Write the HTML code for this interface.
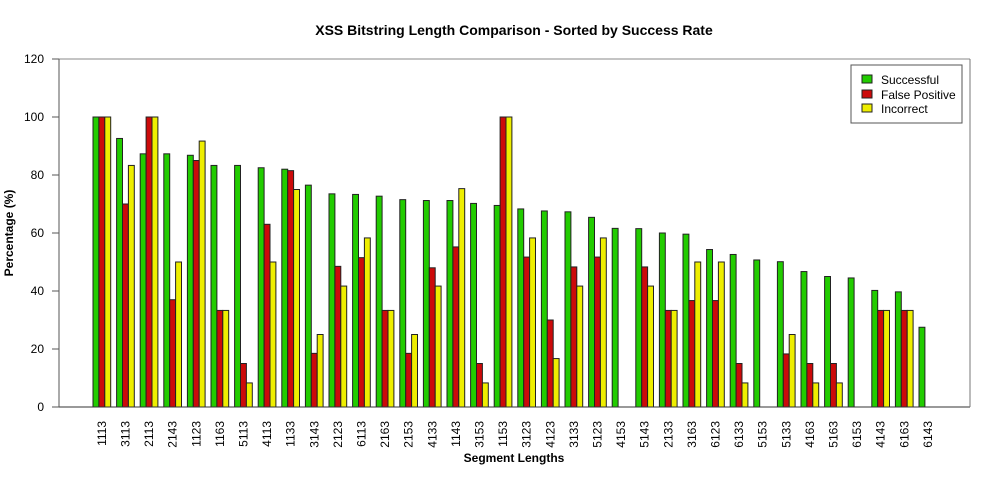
<!DOCTYPE html>
<html><head><meta charset="utf-8"><style>
body{margin:0;background:#fff}
svg{display:block;font-family:"Liberation Sans",sans-serif}
</style></head><body>
<svg id="chart" width="1000" height="480">
<text x="514" y="35" text-anchor="middle" font-size="14" font-weight="bold">XSS Bitstring Length Comparison - Sorted by Success Rate</text>
<text x="514" y="462" text-anchor="middle" font-size="12" font-weight="bold">Segment Lengths</text>
<text transform="translate(13,233) rotate(-90)" text-anchor="middle" font-size="12" font-weight="bold">Percentage (%)</text>
<g id="bars"></g>
<line x1="59" y1="407" x2="970" y2="407" stroke="#333"/>
<line x1="59" y1="59" x2="970" y2="59" stroke="#888"/>
<line x1="970" y1="59" x2="970" y2="407" stroke="#777"/>
<line x1="59" y1="59" x2="59" y2="407" stroke="#555"/>
<g id="yticks"></g>
<g id="xlabels"></g>
<g>
<rect x="851" y="65" width="111" height="58" fill="#fff" stroke="#555"/>
<rect x="862" y="75" width="10" height="8" fill="#22cc00" stroke="#222"/>
<text x="881" y="84" font-size="12">Successful</text>
<rect x="862" y="90" width="10" height="8" fill="#cc0a0a" stroke="#222"/>
<text x="881" y="99" font-size="12">False Positive</text>
<rect x="862" y="104" width="10" height="8" fill="#eeee00" stroke="#222"/>
<text x="881" y="113" font-size="12">Incorrect</text>
</g>
</svg>
<script>
const categories=["1113","3113","2113","2143","1123","1163","5113","4113","1133","3143","2123","6113","2163","2153","4133","1143","3153","1153","3123","4123","3133","5123","4153","5143","2133","3163","6123","6133","5153","5133","4163","5163","6153","4143","6163","6143"];
const successful=[100,92.6,87.3,87.3,86.8,83.3,83.3,82.5,82,76.5,73.5,73.3,72.7,71.5,71.2,71.2,70.2,69.5,68.3,67.6,67.3,65.4,61.6,61.5,60,59.6,54.3,52.6,50.7,50.1,46.7,45,44.5,40.2,39.7,27.5];
const falsePositive=[100,70,100,37,85,33.3,15,63,81.5,18.5,48.5,51.5,33.3,18.5,48,55.2,15,100,51.7,30,48.3,51.7,0,48.3,33.3,36.7,36.7,15,0,18.3,15,15,0,33.3,33.3,0];
const incorrect=[100,83.3,100,50,91.7,33.3,8.3,50,75,25,41.7,58.3,33.3,25,41.7,75.3,8.3,100,58.3,16.7,41.7,58.3,0,41.7,33.3,50,50,8.3,0,25,8.3,8.3,0,33.3,33.3,0];
const yTicks=[0,20,40,60,80,100,120];

const NS="http://www.w3.org/2000/svg";
const yScale=v=>407-v*(348/120);
const groupStep=23.6, barW=5.9, x0=93;
const xGroup=i=>x0+i*groupStep;
const series=[["successful",successful,"#22cc00"],["false-positive",falsePositive,"#cc0a0a"],["incorrect",incorrect,"#eeee00"]];
const gb=document.getElementById("bars");
categories.forEach((c,i)=>{
  series.forEach(([name,vals,col],k)=>{
    const r=document.createElementNS(NS,"rect");
    const y=yScale(vals[i]);
    r.setAttribute("x",xGroup(i)+k*barW);
    r.setAttribute("y",y);
    r.setAttribute("width",barW);
    r.setAttribute("height",Math.max(0,407-y));
    r.setAttribute("fill",col);
    r.setAttribute("stroke","#222");
    r.setAttribute("stroke-width","1");
    
    
    gb.appendChild(r);
  });
  const t=document.createElementNS(NS,"text");
  const cx=xGroup(i)+1.5*barW;
  t.setAttribute("transform","translate("+(cx+4)+",421) rotate(-90)");
  t.setAttribute("text-anchor","end");
  t.setAttribute("font-size","12");
  t.textContent=c;
  
  
  document.getElementById("xlabels").appendChild(t);
});
const gy=document.getElementById("yticks");
yTicks.forEach(v=>{
  const l=document.createElementNS(NS,"line");
  l.setAttribute("x1",52);l.setAttribute("x2",59);
  l.setAttribute("y1",yScale(v));l.setAttribute("y2",yScale(v));
  l.setAttribute("stroke","#555");
  
  
  gy.appendChild(l);
  const t=document.createElementNS(NS,"text");
  t.setAttribute("x",44);t.setAttribute("y",yScale(v)+4);
  t.setAttribute("text-anchor","end");t.setAttribute("font-size","12");
  t.textContent=v;
  
  
  gy.appendChild(t);
});
</script>
</body></html>
